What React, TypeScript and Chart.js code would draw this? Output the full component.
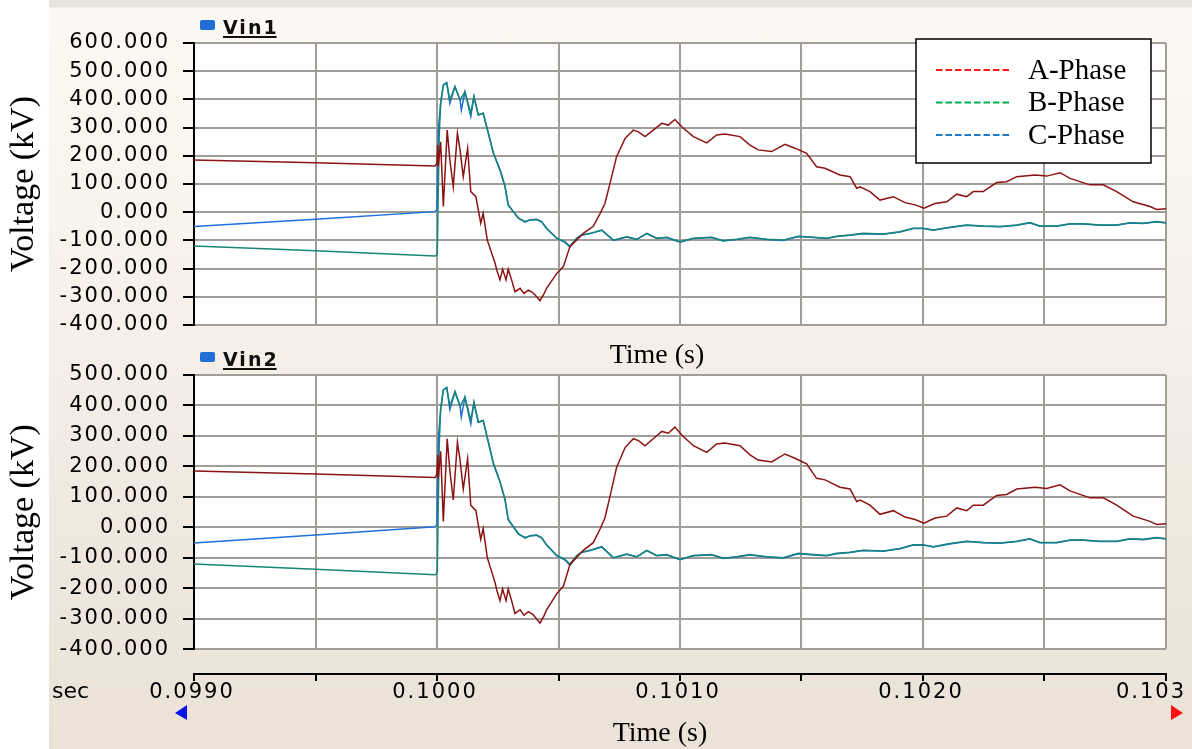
import React, { useEffect, useRef } from 'react';
import { Chart, registerables } from 'chart.js';
Chart.register(...registerables);

// ---------------- data (time in s, voltage in kV) ----------------
const timeA = [0.099, 0.0995, 0.099992, 0.099999, 0.100003, 0.100005, 0.100015, 0.100026, 0.100042, 0.100053, 0.100067, 0.100084, 0.100095, 0.100108, 0.100126, 0.100139, 0.10016, 0.10018, 0.10019, 0.100207, 0.100239, 0.100246, 0.100259, 0.10027, 0.100284, 0.100293, 0.100307, 0.100321, 0.100342, 0.100358, 0.100376, 0.100394, 0.10041, 0.100424, 0.10044, 0.100451, 0.100493, 0.10052, 0.100547, 0.100602, 0.100643, 0.100671, 0.100691, 0.100712, 0.100739, 0.100774, 0.100808, 0.100829, 0.100856, 0.10089, 0.100925, 0.100952, 0.100979, 0.101007, 0.101055, 0.10111, 0.101151, 0.101185, 0.101247, 0.101288, 0.101322, 0.101377, 0.101432, 0.101473, 0.101521, 0.101562, 0.101597, 0.101658, 0.1017, 0.101727, 0.101741, 0.101782, 0.101823, 0.101878, 0.101926, 0.101967, 0.102004, 0.102049, 0.102098, 0.102139, 0.10218, 0.102207, 0.102248, 0.102303, 0.102344, 0.102386, 0.102461, 0.102509, 0.102564, 0.102605, 0.102687, 0.102742, 0.102797, 0.102865, 0.102934, 0.102962, 0.103];
const phaseA = [185, 175, 164, 173, 238, 161, 250, 20, 291, 185, 90, 280, 220, 126, 226, 73, 55, -39, -4, -99, -181, -205, -240, -202, -240, -202, -240, -282, -270, -288, -276, -285, -300, -314, -290, -270, -217, -193, -122, -75, -50, -5, 31, 102, 197, 262, 291, 285, 268, 291, 315, 309, 329, 303, 268, 246, 274, 277, 268, 238, 221, 215, 241, 227, 209, 161, 156, 132, 126, 85, 90, 73, 43, 55, 34, 26, 14, 31, 37, 64, 55, 73, 73, 105, 108, 126, 132, 128, 140, 120, 97, 97, 73, 37, 20, 10, 12];

const timeB = [0.099, 0.0995, 0.099992, 0.099996, 0.100001, 0.100009, 0.100015, 0.100026, 0.10004, 0.100053, 0.100074, 0.100095, 0.100115, 0.100139, 0.100152, 0.10017, 0.10019, 0.100211, 0.100232, 0.100259, 0.10028, 0.100293, 0.100314, 0.100335, 0.100362, 0.100383, 0.10041, 0.100431, 0.100451, 0.100493, 0.100527, 0.100547, 0.100575, 0.100595, 0.10063, 0.100678, 0.100726, 0.100781, 0.100822, 0.100863, 0.100904, 0.100945, 0.101, 0.101055, 0.10113, 0.101178, 0.101233, 0.101288, 0.101357, 0.101425, 0.101487, 0.101549, 0.101604, 0.101645, 0.1017, 0.101754, 0.101837, 0.101905, 0.10196, 0.102001, 0.102042, 0.102111, 0.10218, 0.102248, 0.102317, 0.102386, 0.10244, 0.102481, 0.10255, 0.102605, 0.10266, 0.102728, 0.102797, 0.102852, 0.102907, 0.102962, 0.103];
const phaseB = [-120, -137, -155, -153, -147, 268, 386, 451, 459, 398, 445, 398, 427, 351, 410, 345, 351, 280, 209, 150, 90, 25, 2, -22, -33, -28, -25, -33, -57, -92, -105, -120, -92, -81, -75, -63, -99, -87, -96, -75, -92, -89, -105, -92, -89, -101, -96, -89, -96, -99, -85, -89, -92, -85, -81, -75, -77, -69, -57, -57, -63, -53, -45, -49, -51, -45, -37, -49, -49, -41, -41, -45, -45, -37, -39, -33, -37];

const timeC = [0.099, 0.0995, 0.099992, 0.099999, 0.100006, 0.100015, 0.100026, 0.10004, 0.100053, 0.100074, 0.100095, 0.1001, 0.100115, 0.100139, 0.100152, 0.10017, 0.10019, 0.100211, 0.100232, 0.100259, 0.10028, 0.100293, 0.100314, 0.100335, 0.100362, 0.100383, 0.10041, 0.100431, 0.100451, 0.100493, 0.100527, 0.100547, 0.100575, 0.100595, 0.10063, 0.100678, 0.100726, 0.100781, 0.100822, 0.100863, 0.100904, 0.100945, 0.101, 0.101055, 0.10113, 0.101178, 0.101233, 0.101288, 0.101357, 0.101425, 0.101487, 0.101549, 0.101604, 0.101645, 0.1017, 0.101754, 0.101837, 0.101905, 0.10196, 0.102001, 0.102042, 0.102111, 0.10218, 0.102248, 0.102317, 0.102386, 0.10244, 0.102481, 0.10255, 0.102605, 0.10266, 0.102728, 0.102797, 0.102852, 0.102907, 0.102962, 0.103];
const phaseC = [-51, -25, 2, 8, 300, 386, 451, 459, 386, 445, 398, 362, 427, 339, 410, 345, 351, 282, 211, 151, 92, 27, 3, -20, -35, -27, -26, -35, -58, -93, -107, -124, -94, -82, -76, -64, -100, -88, -97, -76, -93, -90, -106, -93, -90, -102, -97, -90, -97, -100, -86, -90, -93, -86, -82, -76, -78, -70, -58, -58, -64, -54, -46, -50, -52, -46, -38, -50, -50, -42, -42, -46, -46, -38, -40, -34, -38];

const seriesNames = ['A-Phase', 'B-Phase', 'C-Phase'];
const lineColors = ['#8c1212', '#168577', '#1e6fd9'];
const legendColors = ['#ff1a1a', '#00b050', '#1f78c8'];
const panelNames = ['Vin1', 'Vin2'];
const topYLabels = ['-400.000', '-300.000', '-200.000', '-100.000', '0.000', '100.000', '200.000', '300.000', '400.000', '500.000', '600.000'];
const bottomYLabels = ['-400.000', '-300.000', '-200.000', '-100.000', '0.000', '100.000', '200.000', '300.000', '400.000', '500.000'];
const xTickLabels = ['0.0990', '', '0.1000', '', '0.1010', '', '0.1020', '', '0.103'];
const xTitle = 'Time (s)';
const yTitle = 'Voltage (kV)';
const unitLabel = 'sec';

// ---------------- styling ----------------
const GRID = '#a19d99';
const SERIF = '"Liberation Serif", "Times New Roman", serif';
const SANS = '"DejaVu Sans", Verdana, sans-serif';
const W = 1192;
const PLOT_LEFT = 194;
const PLOT_RIGHT_PAD = 26;

function pts(t: number[], v: number[]) {
  return t.map((x, i) => ({ x, y: v[i] }));
}

function panelDecor(name: string, withLegend: boolean, withTime: boolean) {
  return {
    id: 'panelDecor',
    beforeDraw(chart: any) {
      const { ctx, chartArea: a } = chart;
      ctx.save();
      ctx.fillStyle = '#ffffff';
      ctx.fillRect(a.left, a.top, a.right - a.left, a.bottom - a.top);
      ctx.restore();
      (ctx as any).letterSpacing = '2px';
      const ys = chart.scales.y;
      if (ys && !ys.__patched) {
        const orig = ys.drawTitle;
        ys.drawTitle = function (...args: any[]) {
          const c = this.ctx;
          const prev = c.letterSpacing;
          c.letterSpacing = '0px';
          orig.apply(this, args);
          c.letterSpacing = prev;
        };
        ys.__patched = true;
      }
    },
    afterDraw(chart: any) {
      const { ctx, chartArea: a } = chart;
      ctx.save();
      // panel marker
      ctx.fillStyle = '#1f6fd6';
      ctx.beginPath();
      (ctx as any).roundRect(a.left + 6, a.top - 23, 15, 10, 2);
      ctx.fill();
      (ctx as any).letterSpacing = '2px';
      ctx.font = `bold 19px ${SANS}`;
      ctx.fillStyle = '#111';
      ctx.textAlign = 'left';
      ctx.textBaseline = 'alphabetic';
      ctx.fillText(name, a.left + 29, a.top - 9);
      const w = ctx.measureText(name).width;
      ctx.fillRect(a.left + 29, a.top - 7, w - 2, 2);
      (ctx as any).letterSpacing = '0px';
      if (withTime) {
        ctx.font = `28px ${SERIF}`;
        ctx.textAlign = 'center';
        ctx.fillStyle = '#000';
        ctx.fillText(xTitle, 657, a.bottom + 38);
      }
      if (withLegend) {
        const bx = a.right - 250, by = a.top - 4, bw = 235, bh = 124;
        ctx.fillStyle = '#fff';
        ctx.fillRect(bx, by, bw, bh);
        ctx.strokeStyle = '#000';
        ctx.lineWidth = 1.5;
        ctx.strokeRect(bx, by, bw, bh);
        ctx.font = `29px ${SERIF}`;
        ctx.textAlign = 'left';
        ctx.textBaseline = 'middle';
        seriesNames.forEach((s, i) => {
          const y = by + 31 + i * 32.5;
          ctx.strokeStyle = legendColors[i];
          ctx.lineWidth = 2;
          ctx.setLineDash([6.5, 3]);
          ctx.beginPath();
          ctx.moveTo(bx + 20, y);
          ctx.lineTo(bx + 96, y);
          ctx.stroke();
          ctx.setLineDash([]);
          ctx.fillStyle = '#000';
          ctx.fillText(s, bx + 112, y + 1);
        });
      }
      ctx.restore();
    },
  };
}

function panelConfig(name: string, yMin: number, yMax: number, yLabels: string[], padTop: number, padBottom: number, withLegend: boolean, withTime: boolean): any {
  return {
    type: 'line',
    data: {
      datasets: [
        { label: seriesNames[0], data: pts(timeA, phaseA), borderColor: lineColors[0], borderWidth: 1.5, pointRadius: 0, tension: 0 },
        { label: seriesNames[1], data: pts(timeB, phaseB), borderColor: lineColors[1], borderWidth: 1.5, pointRadius: 0, tension: 0 },
        { label: seriesNames[2], data: pts(timeC, phaseC), borderColor: lineColors[2], borderWidth: 1.5, pointRadius: 0, tension: 0 },
      ],
    },
    options: {
      animation: false,
      responsive: false,
      maintainAspectRatio: false,
      layout: { padding: { top: padTop, bottom: padBottom, left: 0, right: PLOT_RIGHT_PAD } },
      plugins: { legend: { display: false }, tooltip: { enabled: false } },
      scales: {
        x: {
          type: 'linear',
          min: 0.099,
          max: 0.103,
          ticks: { display: false, stepSize: 0.0005 },
          grid: { color: GRID, lineWidth: 2, drawTicks: false },
          border: { display: false },
          afterFit: (s: any) => { s.height = 0; },
        },
        y: {
          min: yMin,
          max: yMax,
          ticks: {
            stepSize: 100,
            color: '#000',
            font: { family: SANS, size: 21 },
            padding: 13,
            callback: (_v: any, i: number) => yLabels[i],
          },
          grid: { color: GRID, lineWidth: 2, tickColor: '#000', tickLength: 11 },
          border: { color: '#000', width: 2 },
          title: { display: true, text: yTitle, color: '#000', font: { family: SERIF, size: 34 }, padding: { top: 4, bottom: 0 } },
          afterFit: (s: any) => { s.width = PLOT_LEFT; },
        },
      },
    },
    plugins: [panelDecor(name, withLegend, withTime)],
  };
}

function axisConfig(): any {
  return {
    type: 'line',
    data: { datasets: [] },
    options: {
      animation: false,
      responsive: false,
      maintainAspectRatio: false,
      layout: { padding: { top: 4, bottom: 0, left: PLOT_LEFT, right: PLOT_RIGHT_PAD } },
      plugins: { legend: { display: false }, tooltip: { enabled: false } },
      scales: {
        x: {
          type: 'linear',
          position: 'bottom',
          min: 0.099,
          max: 0.103,
          ticks: { display: false, stepSize: 0.0005 },
          grid: { drawOnChartArea: false, drawTicks: true, tickLength: 7, tickColor: '#000', lineWidth: 2 },
          border: { color: '#000', width: 2 },
          afterFit: (s: any) => { s.height = 75; s.paddingLeft = 0; s.paddingRight = 0; },
        },
        y: { display: false, min: 0, max: 1 },
      },
    },
    plugins: [
      {
        id: 'axisDecor',
        afterDraw(chart: any) {
          const { ctx, chartArea: a } = chart;
          const scale = chart.scales.x;
          ctx.save();
          (ctx as any).letterSpacing = '2px';
          ctx.font = `21px ${SANS}`;
          ctx.fillStyle = '#000';
          ctx.textAlign = 'center';
          ctx.textBaseline = 'middle';
          scale.ticks.forEach((t: any, i: number) => {
            const label = xTickLabels[i];
            if (!label) return;
            const w = ctx.measureText(label).width;
            let x = scale.getPixelForValue(t.value);
            x = Math.min(x, chart.width - w / 2 - 4);
            ctx.fillText(label, x - 2, a.bottom + 19);
          });
          (ctx as any).letterSpacing = '0px';
          ctx.font = `22px ${SANS}`;
          ctx.textAlign = 'left';
          ctx.textBaseline = 'alphabetic';
          ctx.fillText(unitLabel, 52, a.bottom + 24);
          // range markers
          ctx.fillStyle = '#0a14e6';
          ctx.beginPath();
          ctx.moveTo(175, a.bottom + 39);
          ctx.lineTo(187, a.bottom + 31);
          ctx.lineTo(187, a.bottom + 46);
          ctx.closePath();
          ctx.fill();
          ctx.fillStyle = '#ff1010';
          ctx.beginPath();
          ctx.moveTo(1183, a.bottom + 39);
          ctx.lineTo(1171, a.bottom + 31);
          ctx.lineTo(1171, a.bottom + 46);
          ctx.closePath();
          ctx.fill();
          ctx.fillStyle = '#000';
          ctx.font = `28px ${SERIF}`;
          ctx.textAlign = 'center';
          ctx.fillText(xTitle, 660, a.bottom + 67);
          ctx.restore();
        },
      },
    ],
  };
}

export default function App() {
  const topRef = useRef<HTMLCanvasElement>(null);
  const botRef = useRef<HTMLCanvasElement>(null);
  const axRef = useRef<HTMLCanvasElement>(null);

  useEffect(() => {
    const charts = [
      new Chart(topRef.current as HTMLCanvasElement, panelConfig(panelNames[0], -400, 600, topYLabels, 43, 50, true, true)),
      new Chart(botRef.current as HTMLCanvasElement, panelConfig(panelNames[1], -400, 500, bottomYLabels, 30, 17, false, false)),
      new Chart(axRef.current as HTMLCanvasElement, axisConfig()),
    ];
    return () => charts.forEach((c) => c.destroy());
  }, []);

  return (
    <div style={{ position: 'absolute', left: 0, top: 0, width: W, height: 749, overflow: 'hidden', background: '#fff' }}>
      <div
        style={{
          position: 'absolute', left: 49, top: 0, width: W - 49, height: 749,
          background: 'linear-gradient(to bottom, #e9e3dd 0px, #e9e3dd 7px, #fcf8f3 8px, #f7f1ea 300px, #efe7de 560px, #ebe1d7 749px)',
        }}
      />
      <canvas ref={topRef} width={W} height={375} style={{ position: 'absolute', left: 0, top: 0 }} />
      <canvas ref={botRef} width={W} height={330} style={{ position: 'absolute', left: 0, top: 345 }} />
      <canvas ref={axRef} width={W} height={89} style={{ position: 'absolute', left: 0, top: 660 }} />
    </div>
  );
}
